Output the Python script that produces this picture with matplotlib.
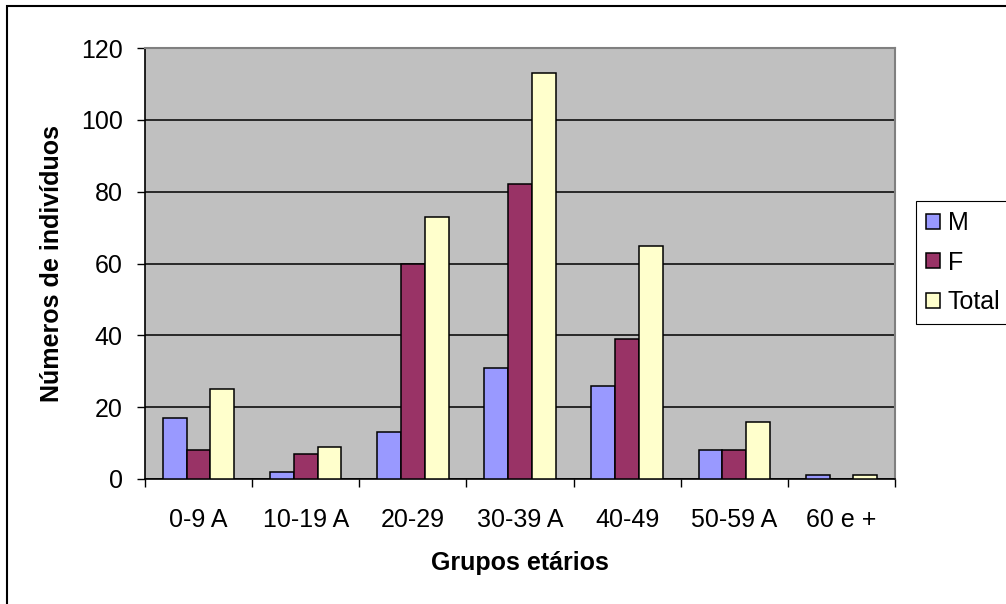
import numpy as np
import matplotlib
matplotlib.use("Agg")
import matplotlib.pyplot as plt
from matplotlib.patches import Rectangle

plt.rcParams["font.family"] = ["Liberation Sans", "DejaVu Sans"]

# ---- Data ----
grupos = ["0-9 A", "10-19 A", "20-29", "30-39 A", "40-49", "50-59 A", "60 e +"]
masc = [17, 2, 13, 31, 26, 8, 1]
fem = [8, 7, 60, 82, 39, 8, 0]
total = [25, 9, 73, 113, 65, 16, 1]

series = [("M", masc, "#9999FF"), ("F", fem, "#993366"), ("Total", total, "#FFFFCC")]

W, H = 1006, 604
fig = plt.figure(figsize=(W / 100, H / 100), dpi=100)

# chart frame (runs off the right/bottom edge)
fig.patches.append(Rectangle((7 / W, -0.05), 1.2, 1 - 6 / H + 0.05,
                             transform=fig.transFigure, fill=False,
                             edgecolor="black", linewidth=1.5, zorder=0))

ax = fig.add_axes([145 / W, (H - 479) / H, 750 / W, 431 / H])
ax.set_facecolor("#C0C0C0")

x = np.arange(len(grupos))
bw = 1 / 4.5
bars = []
for j, (name, vals, color) in enumerate(series):
    b = ax.bar(x + (j - 1) * bw, vals, width=bw, color=color,
               edgecolor="black", linewidth=1.1, label=name, zorder=3)
    bars.append(b)

ax.set_xlim(-0.5, len(grupos) - 0.5)
ax.set_ylim(0, 120)
ax.set_yticks(np.arange(0, 121, 20))
ax.yaxis.grid(True, color="black", linewidth=1.1, zorder=1)
ax.set_axisbelow(True)

# category ticks sit between groups, labels in the middle
ax.set_xticks(x)
ax.set_xticklabels(grupos)
ax.set_xticks(np.arange(-0.5, len(grupos)), minor=True)
ax.tick_params(axis="x", which="major", length=0, pad=21, labelsize=18)
ax.tick_params(axis="x", which="minor", length=6, width=1.0, direction="out")
ax.tick_params(axis="y", length=6, width=1.0, direction="out", pad=10, labelsize=18)

for side in ("left", "bottom"):
    ax.spines[side].set_color("black")
    ax.spines[side].set_linewidth(1.2)
for side in ("top", "right"):
    ax.spines[side].set_color("#808080")
    ax.spines[side].set_linewidth(1.5)

ax.set_xlabel("Grupos etários", fontsize=18, fontweight="bold", va="center")
ax.xaxis.set_label_coords(0.5, -0.195)
ax.set_ylabel("Números de indivíduos", fontsize=18, fontweight="bold", va="center")
ax.yaxis.set_label_coords(-0.124, 0.5)

leg = fig.legend(handles=bars, labels=[s[0] for s in series],
                 loc="upper left", bbox_to_anchor=(916 / W, 1 - 201 / H),
                 borderaxespad=0, borderpad=0.4, handlelength=0.56,
                 handleheight=0.56, handletextpad=0.32, labelspacing=0.62,
                 fontsize=18, fancybox=False, framealpha=1, edgecolor="black")
leg.get_frame().set_linewidth(0.8)

fig.savefig("out.png", dpi=100)
